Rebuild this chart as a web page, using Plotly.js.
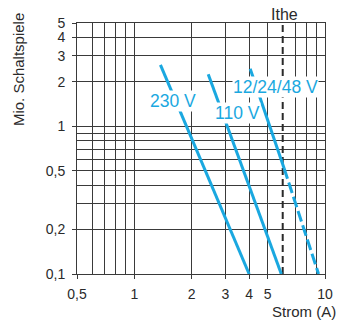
<!DOCTYPE html>
<html><head><meta charset="utf-8">
<script src="https://cdn.plot.ly/plotly-3.0.1.min.js"></script>
<style>html,body{margin:0;padding:0;background:#fff}</style>
</head><body><div id="chart" style="width:342px;height:322px"></div>
<script>
// Tick values / labels
const xTickVals = [0.5, 1, 2, 3, 4, 5, 10];
const xTickText = ['0,5', '1', '2', '3', '4', '5', '10'];
const xGridExtra = [0.6, 0.7, 0.8, 0.9, 7, 8, 9];
const yTickVals = [0.1, 0.2, 0.5, 1, 2, 3, 4, 5];
const yTickText = ['0,1', '0,2', '0,5', '1', '2', '3', '4', '5'];
const yGridExtra = [0.3, 0.4, 0.6, 0.7, 0.8, 0.9];

// Series (Strom A, Mio. Schaltspiele)
const s230_x = [1.37, 4.0];
const s230_y = [2.6, 0.1];
const s110_x = [2.44, 5.9];
const s110_y = [2.25, 0.1];
const s12_solid_x = [4.05, 6.1];
const s12_solid_y = [2.45, 0.52];
const s12_dash_x = [6.1, 9.25];
const s12_dash_y = [0.52, 0.1];
const ithe_x = [6, 6];
const ithe_y = [0.1, 5];

const BLUE = '#1aa8e0';
const INK = '#2a2a2a';
const GRID = '#3a3a3a';
const FONT = 'Liberation Sans, Arial, sans-serif';

const L = 77, T = 23, W = 248.5, H = 251;
const px = x => (x - L) / W;
const py = y => (T + H - y) / H;

const base = {mode: 'lines', hoverinfo: 'skip', showlegend: false};
const data = [
  Object.assign({x: ithe_x, y: ithe_y, line: {color: INK, width: 2, dash: '7px,4px'}}, base),
  Object.assign({x: s230_x, y: s230_y, line: {color: BLUE, width: 3}}, base),
  Object.assign({x: s110_x, y: s110_y, line: {color: BLUE, width: 3}}, base),
  Object.assign({x: s12_solid_x, y: s12_solid_y, line: {color: BLUE, width: 3}}, base),
  Object.assign({x: s12_dash_x, y: s12_dash_y, line: {color: BLUE, width: 3, dash: '11px,4px'}}, base)
];

const axisCommon = {
  type: 'log', showline: true, mirror: true, linecolor: GRID, linewidth: 1,
  showgrid: true, gridcolor: GRID, gridwidth: 1, zeroline: false,
  ticks: 'outside', ticklen: 4, tickwidth: 1, tickcolor: GRID,
  tickmode: 'array', fixedrange: true,
  tickfont: {family: FONT, size: 14, color: INK}
};

const layout = {
  width: 342, height: 322,
  margin: {l: L, r: 342 - L - W, t: T, b: 322 - T - H},
  paper_bgcolor: '#fff', plot_bgcolor: '#fff',
  font: {family: FONT, color: INK},
  xaxis: Object.assign({}, axisCommon, {
    range: [Math.log10(0.5), 1], tickvals: xTickVals, ticktext: xTickText,
    ticklabelstandoff: 3,
    minor: {tickmode: 'array', tickvals: xGridExtra, showgrid: true, gridcolor: GRID, gridwidth: 1, ticks: ''}
  }),
  yaxis: Object.assign({}, axisCommon, {
    range: [-1, Math.log10(5)], tickvals: yTickVals, ticktext: yTickText,
    ticklabelstandoff: 4,
    minor: {tickmode: 'array', tickvals: yGridExtra, showgrid: true, gridcolor: GRID, gridwidth: 1, ticks: ''}
  }),
  annotations: [
    {xref: 'paper', yref: 'paper', x: px(19), y: py(70), text: 'Mio. Schaltspiele', textangle: -90,
     showarrow: false, xanchor: 'center', yanchor: 'middle', font: {family: FONT, size: 15, color: INK}},
    {xref: 'paper', yref: 'paper', x: px(304.5), y: py(311), text: 'Strom (A)',
     showarrow: false, xanchor: 'center', yanchor: 'middle', font: {family: FONT, size: 15, color: INK}},
    {xref: 'paper', yref: 'paper', x: px(285), y: py(14.5), text: 'Ithe',
     showarrow: false, xanchor: 'center', yanchor: 'middle', font: {family: FONT, size: 16, color: INK}},
    {xref: 'paper', yref: 'paper', x: px(173.3), y: py(101.2), text: '230 V', bgcolor: '#fff', borderpad: 0,
     showarrow: false, xanchor: 'center', yanchor: 'middle', font: {family: FONT, size: 17.5, color: BLUE}},
    {xref: 'paper', yref: 'paper', x: px(238), y: py(113.3), text: '110 V', bgcolor: '#fff', borderpad: 0,
     showarrow: false, xanchor: 'center', yanchor: 'middle', font: {family: FONT, size: 17.5, color: BLUE}},
    {xref: 'paper', yref: 'paper', x: px(275.7), y: py(86.5), text: '12/24/48 V', bgcolor: '#fff', borderpad: 0,
     showarrow: false, xanchor: 'center', yanchor: 'middle', font: {family: FONT, size: 17.5, color: BLUE}}
  ]
};

Plotly.newPlot('chart', data, layout, {staticPlot: true, displayModeBar: false});
</script></body></html>
